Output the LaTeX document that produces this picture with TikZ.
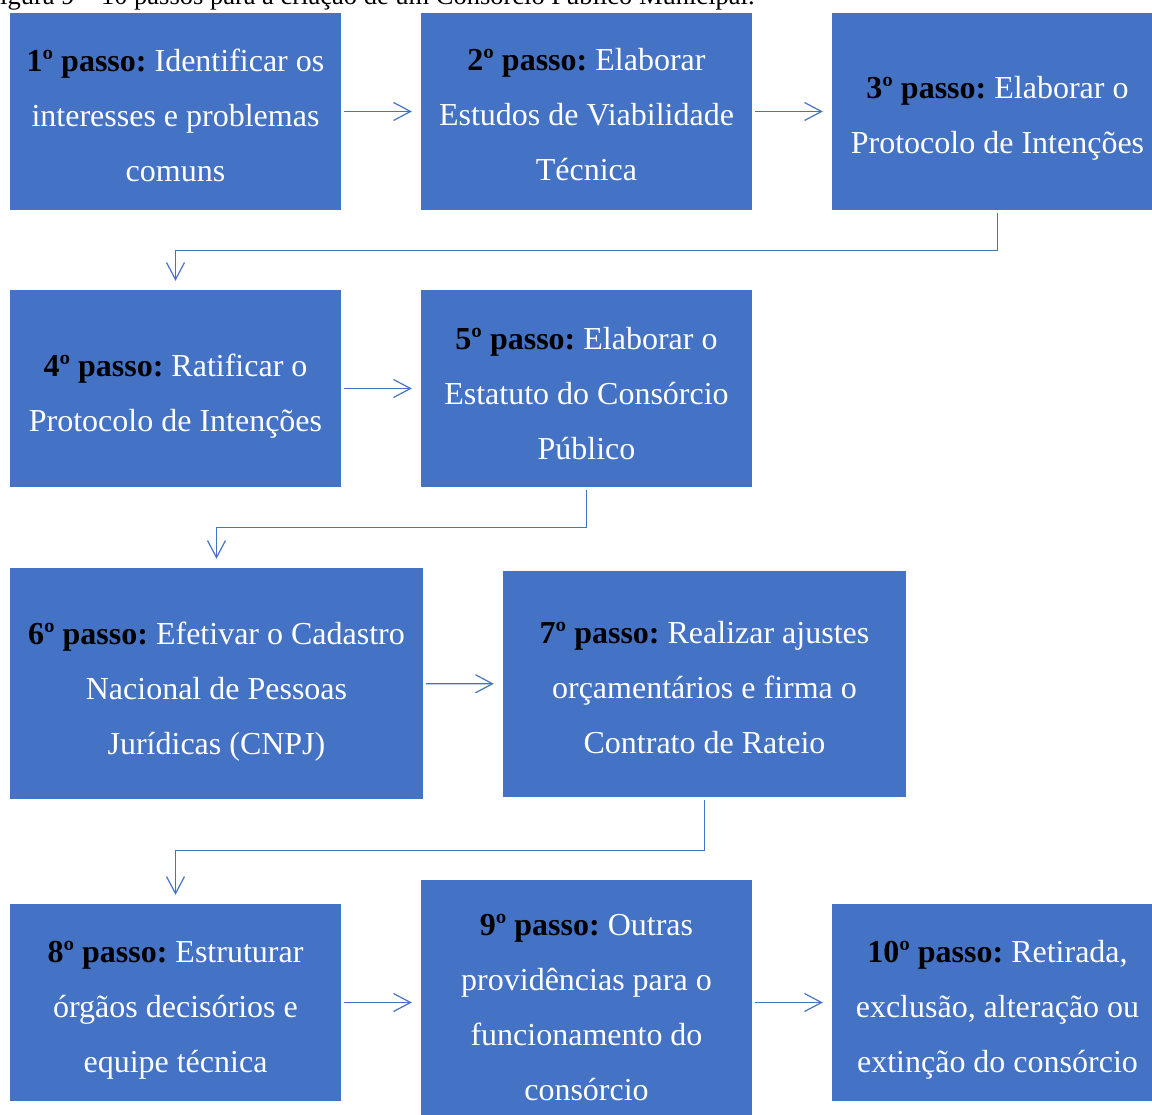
\documentclass[tikz,border=0pt]{standalone}
\usepackage{fontspec}
\setmainfont{Liberation Serif}
\usetikzlibrary{arrows.meta}
\definecolor{boxblue}{HTML}{4472C4}
\frenchspacing
\tikzset{
  stepbox/.style={fill=boxblue, inner sep=0pt},
  steptext/.style={inner sep=0pt, align=center, text=white,
    font=\fontsize{32}{55}\selectfont},
  conn/.style={draw=boxblue, line width=1.2pt,
    -{Straight Barb[length=17pt,width=18pt]}, shorten <=3pt, shorten >=9pt},
}
\newcommand{\stephead}[1]{{\color{black}\bfseries #1º passo:}}
% #1 box name, #2 downward offset of the text, #3 text
\newcommand{\steplabel}[3]{\node[steptext] at ([yshift=-#2pt]#1.center) {#3};}
\begin{document}
\begin{tikzpicture}[x=1pt,y=-1pt]
\useasboundingbox (0,0) rectangle (1152,1115);
% caption
\node[anchor=base west, inner sep=0pt, font=\fontsize{26.5}{30}\selectfont] (title) at (-14.7,5)
  {Figura 9 – 10 passos para a criação de um Consórcio Público Municipal.};
% boxes
\node[stepbox, minimum width=331pt, minimum height=197pt] (s1) at (175.5,111.5) {};
\node[stepbox, minimum width=331pt, minimum height=197pt] (s2) at (586.5,111.5) {};
\node[stepbox, minimum width=331pt, minimum height=197pt] (s3) at (997.5,111.5) {};
\node[stepbox, minimum width=331pt, minimum height=197pt] (s4) at (175.5,388.5) {};
\node[stepbox, minimum width=331pt, minimum height=197pt] (s5) at (586.5,388.5) {};
\node[stepbox, minimum width=413pt, minimum height=231pt] (s6) at (216.5,683.5) {};
\node[stepbox, minimum width=403pt, minimum height=226pt] (s7) at (704.5,684) {};
\node[stepbox, minimum width=331pt, minimum height=197pt] (s8) at (175.5,1002.5) {};
\node[stepbox, minimum width=331pt, minimum height=252pt] (s9) at (586.5,1006) {};
\node[stepbox, minimum width=331pt, minimum height=197pt] (s10) at (997.5,1002.5) {};
% step texts
\steplabel{s1}{3.5}{\stephead{1} Identificar os\\interesses e problemas\\comuns}
\steplabel{s2}{3.5}{\stephead{2} Elaborar\\Estudos de Viabilidade\\Técnica}
\steplabel{s3}{6.5}{\stephead{3} Elaborar o\\Protocolo de Intenções}
\steplabel{s4}{7.5}{\stephead{4} Ratificar o\\Protocolo de Intenções}
\steplabel{s5}{5.5}{\stephead{5} Elaborar o\\Estatuto do Consórcio\\Público}
\steplabel{s6}{8}{\stephead{6} Efetivar o Cadastro\\Nacional de Pessoas\\Jurídicas (CNPJ)}
\steplabel{s7}{3.5}{\stephead{7} Realizar ajustes\\orçamentários e firma o\\Contrato de Rateio}
\steplabel{s8}{7.5}{\stephead{8} Estruturar\\órgãos decisórios e\\equipe técnica}
\steplabel{s9}{1.5}{\stephead{9} Outras\\providências para o\\funcionamento do\\consórcio}
\steplabel{s10}{7.5}{\stephead{10} Retirada,\\exclusão, alteração ou\\extinção do consórcio}
% connectors
\draw[conn] (s1) -- (s2);
\draw[conn] (s2) -- (s3);
\draw[conn] (s3.south) -- ++(0,40) -| (s4.north);
\draw[conn] (s4) -- (s5);
\draw[conn] (s5.south) -- ++(0,40) -| (s6.north);
\draw[conn] (s6) -- (s7);
\draw[conn] (s7.south) -- ++(0,53) -| (s8.north);
\draw[conn] (s8) -- (s9.west |- s8);
\draw[conn] (s9.east |- s10) -- (s10);
\end{tikzpicture}
\end{document}
